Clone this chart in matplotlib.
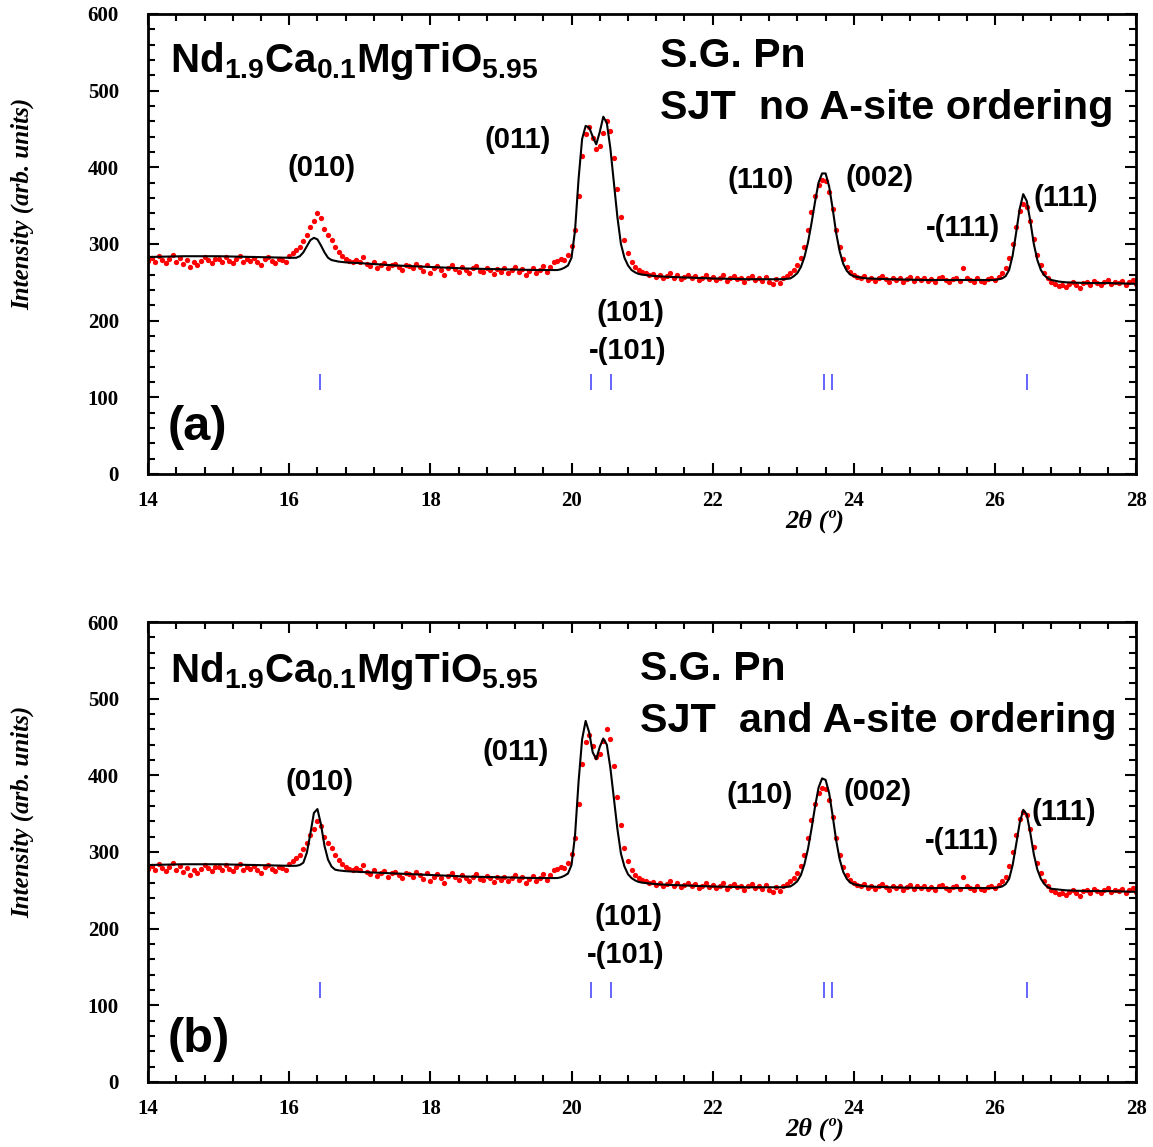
import numpy as np
import matplotlib
matplotlib.use('Agg')
import matplotlib.pyplot as plt
from matplotlib.ticker import MultipleLocator

plt.rcParams['font.family'] = 'Liberation Serif'
plt.rcParams['font.weight'] = 'bold'
plt.rcParams['xtick.labelsize'] = 15
plt.rcParams['ytick.labelsize'] = 15
plt.rcParams['mathtext.fontset'] = 'custom'
plt.rcParams['mathtext.rm'] = 'Liberation Sans:bold'
plt.rcParams['mathtext.it'] = 'Liberation Sans:bold'
plt.rcParams['mathtext.bf'] = 'Liberation Sans:bold'
plt.rcParams['mathtext.default'] = 'rm'

# observed pattern, 2theta = 14.00 ... 28.00 in 0.05 steps (same data in both panels)
obs_start, obs_step = 14.0, 0.05
obs = [
    278, 282, 276, 284, 279, 275, 281, 285, 277, 282, 274, 279, 270, 276, 272, 278, 283, 279, 275, 281,  # 14
    280, 277, 283, 278, 275, 281, 284, 276, 280, 278, 282, 277, 273, 280, 283, 278, 275, 281, 279, 276,  # 15
    284, 288, 292, 296, 304, 312, 322, 330, 340, 334, 320, 312, 305, 296, 290, 284, 280, 278, 276, 279,  # 16
    276, 283, 274, 271, 277, 269, 273, 275, 268, 272, 274, 270, 266, 273, 271, 268, 274, 270, 265, 272,  # 17
    262, 268, 271, 266, 260, 269, 273, 267, 264, 270, 266, 262, 268, 271, 265, 263, 269, 266, 261, 267,  # 18
    264, 268, 262, 266, 270, 263, 267, 259, 265, 269, 262, 266, 271, 264, 270, 276, 278, 281, 279, 286,  # 19
    298, 318, 362, 415, 443, 452, 438, 424, 428, 445, 460, 447, 412, 372, 335, 305, 288, 276, 270, 266,  # 20
    264, 262, 259, 261, 257, 260, 255, 258, 262, 256, 259, 254, 257, 260, 255, 258, 253, 256, 259, 254,  # 21
    257, 253, 256, 259, 252, 255, 258, 254, 256, 251, 255, 258, 253, 256, 252, 257, 250, 248, 254, 249,  # 22
    255, 258, 262, 266, 272, 282, 296, 318, 342, 362, 377, 384, 382, 368, 345, 318, 296, 280, 270, 264,  # 23
    260, 257, 255, 258, 253, 256, 252, 255, 258, 254, 251, 256, 253, 255, 250, 254, 257, 252, 255, 253,  # 24
    256, 252, 254, 251, 255, 257, 253, 250, 254, 256, 252, 268, 255, 253, 251, 255, 252, 250, 254, 256,  # 25
    253, 257, 262, 268, 282, 300, 322, 343, 352, 348, 330, 306, 286, 272, 262, 256, 251, 248, 245, 247,  # 26
    244, 248, 250, 246, 243, 249, 251, 247, 252, 249, 246, 250, 253, 248, 251, 249, 252, 247, 250, 253,  # 27
    248,
]

# calculated profiles
calc_x = [14.0, 14.5, 15.0, 15.5, 16.0, 16.1, 16.15, 16.2, 16.25, 16.3, 16.35, 16.4, 16.45, 16.5,
          16.55, 16.6, 16.65, 16.7, 16.8, 17.0, 17.5, 18.0, 18.5, 19.0, 19.5, 19.8, 19.85, 19.9,
          19.95, 20.0, 20.05, 20.1, 20.15, 20.2, 20.25, 20.3, 20.35, 20.4, 20.45, 20.5, 20.55, 20.6,
          20.65, 20.7, 20.75, 20.8, 20.85, 20.9, 20.95, 21.0, 21.1, 21.2, 21.4, 21.7, 22.0, 22.5,
          23.0, 23.1, 23.15, 23.2, 23.25, 23.3, 23.35, 23.4, 23.45, 23.5, 23.55, 23.6, 23.65, 23.7,
          23.75, 23.8, 23.85, 23.9, 23.95, 24.0, 24.1, 24.2, 24.5, 25.0, 25.5, 26.0, 26.1, 26.15,
          26.2, 26.25, 26.3, 26.35, 26.4, 26.45, 26.5, 26.55, 26.6, 26.65, 26.7, 26.75, 26.8, 26.9,
          27.0, 27.3, 27.6, 28.0]
calc_a = [283, 284, 284, 283, 282, 282, 284, 289, 297, 305, 308, 306, 298, 289,
          282, 279, 278, 277, 276, 275, 272, 270, 268, 267, 266, 266, 267, 269,
          272, 282, 318, 385, 437, 454, 452, 440, 430, 446, 466, 458, 425, 380,
          335, 300, 282, 272, 266, 263, 261, 260, 259, 258, 257, 256, 255, 254,
          254, 255, 258, 262, 270, 283, 302, 327, 355, 380, 392, 392, 375, 346,
          314, 290, 274, 265, 260, 258, 256, 255, 254, 253, 253, 253, 255, 258,
          266, 285, 315, 346, 365, 356, 330, 300, 279, 266, 259, 255, 253, 251,
          250, 249, 249, 248]
calc_b = [283, 284, 284, 283, 282, 282, 283, 286, 299, 324, 351, 356, 336, 308,
          290, 281, 277, 276, 275, 274, 272, 270, 268, 267, 266, 266, 267, 269,
          272, 283, 322, 392, 447, 471, 456, 430, 421, 437, 448, 440, 410, 370,
          330, 298, 281, 271, 266, 263, 261, 260, 259, 258, 257, 256, 255, 254,
          254, 255, 258, 262, 270, 284, 304, 330, 359, 384, 396, 394, 377, 347,
          315, 290, 274, 265, 260, 258, 256, 255, 254, 253, 253, 253, 255, 258,
          265, 283, 310, 338, 355, 349, 325, 297, 277, 265, 258, 254, 252, 251,
          250, 249, 249, 248]

# Bragg reflection positions
bragg = [16.43, 20.27, 20.56, 23.58, 23.69, 26.45]

# peak labels: text, x, y
labels_a = [('(010)', 16.46, 399), ('(011)', 19.24, 436), ('(101)', 20.84, 210),
            ('-(101)', 20.80, 161), ('(110)', 22.68, 384), ('(002)', 24.37, 386),
            ('-(111)', 25.54, 321), ('(111)', 27.0, 360)]
labels_b = [('(010)', 16.43, 391), ('(011)', 19.21, 430), ('(101)', 20.81, 215),
            ('-(101)', 20.77, 166), ('(110)', 22.66, 374), ('(002)', 24.34, 378),
            ('-(111)', 25.53, 314), ('(111)', 26.97, 352)]

formula = r'Nd$_{1.9}$Ca$_{0.1}$MgTiO$_{5.95}$'

obs_x = np.round(obs_start + obs_step * np.arange(len(obs)), 2)

fig = plt.figure(figsize=(11.53, 11.47), dpi=100)
ax_a = fig.add_axes([0.1284, 0.5868, 0.857, 0.401])
ax_b = fig.add_axes([0.1284, 0.0567, 0.857, 0.401])

panels = [
    (ax_a, calc_a, labels_a, 'SJT  no A-site ordering', '(a)', 524, 21.25, 531, 463, 60),
    (ax_b, calc_b, labels_b, 'SJT  and A-site ordering', '(b)', 522, 20.97, 524, 456, 55),
]

for ax, calc, labs, model, tag, y_f, x_sg, y_sg, y_m, y_tag in panels:
    ax.plot(obs_x, obs, 'o', color='red', ms=3.8, mec='none', zorder=2)
    ax.plot(calc_x, calc, '-', color='black', lw=1.5, zorder=3)
    ax.vlines(bragg, 110, 130, color='#3a3aff', lw=1.1)

    ax.set_xlim(14, 28)
    ax.set_ylim(0, 600)
    ax.xaxis.set_major_locator(MultipleLocator(2))
    ax.xaxis.set_minor_locator(MultipleLocator(0.4))
    ax.yaxis.set_major_locator(MultipleLocator(100))
    ax.yaxis.set_minor_locator(MultipleLocator(20))
    ax.tick_params(which='both', direction='in', top=True, right=True, width=1.5)
    ax.tick_params(which='major', length=8)
    ax.tick_params(which='minor', length=5)
    ax.tick_params(axis='x', pad=12)
    ax.tick_params(axis='y', pad=21)
    for s in ax.spines.values():
        s.set_linewidth(2)

    ax.text(-0.127, 0.588, 'Intensity (arb. units)', transform=ax.transAxes,
            rotation=90, ha='center', va='center', family='Liberation Serif',
            style='italic', weight='bold', fontsize=18)
    ax.text(0.675, -0.102, '2θ (º)', transform=ax.transAxes, ha='center', va='center',
            family='Liberation Serif', style='italic', weight='bold', fontsize=19)

    ax.text(14.31, y_f, formula, fontsize=29, family='Liberation Sans', weight='bold',
            ha='left', va='baseline')
    ax.text(x_sg, y_sg, 'S.G. Pn', fontsize=29.5, family='Liberation Sans',
            weight='bold', ha='left', va='baseline')
    ax.text(x_sg, y_m, model, fontsize=29.8, family='Liberation Sans',
            weight='bold', ha='left', va='baseline')
    ax.text(14.28, y_tag, tag, fontsize=35, family='Liberation Sans', weight='bold',
            ha='left', va='center')
    for t, x, y in labs:
        ax.text(x, y, t, fontsize=21, family='Liberation Sans', weight='bold',
                ha='center', va='center')

fig.savefig('out.png', dpi=100)
